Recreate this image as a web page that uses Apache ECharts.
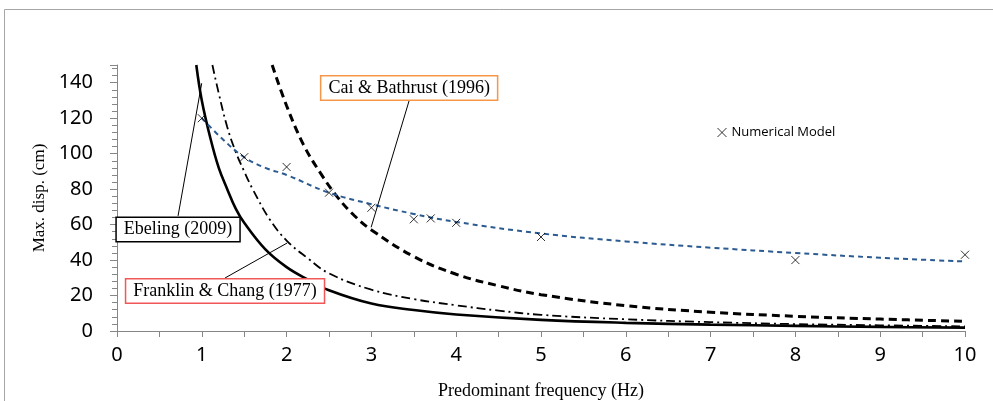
<!DOCTYPE html>
<html>
<head>
<meta charset="utf-8">
<script src="https://cdn.jsdelivr.net/npm/echarts@6/dist/echarts.min.js"></script>
<style>
  html, body { margin: 0; padding: 0; background: #fff; }
  #chart { width: 993px; height: 401px; }
</style>
</head>
<body>
<div id="chart"></div>
<script>
// values: [frequency (Hz), max. disp. (cm)]
var ebeling = [[0.935,150],[1.0,130],[1.1,109],[1.2,92],[1.3,80],[1.4,69],[1.5,61],[1.75,46],[2,36],[2.25,29],[2.5,23],[3,15.5],[3.5,11.8],[4,9.3],[5,6.3],[6,4.6],[7,3.6],[8,2.9],[9,2.3],[10,1.9]];
var franklin = [[1.125,150],[1.2,134],[1.3,115],[1.4,101],[1.5,90],[1.6,80],[1.8,63],[2,51],[2.25,41],[2.5,32.5],[3,23.3],[3.5,18],[4,14.5],[4.5,11.5],[5,9.1],[6,6.6],[7,5],[8,3.9],[9,3.2],[10,2.6]];
var cai = [[1.83,150],[2,127],[2.2,105],[2.4,89],[2.6,75.5],[2.8,65],[3,57],[3.5,42],[4,32],[4.5,25.5],[5,20.5],[6,14.3],[7,10.6],[8,8.3],[9,6.7],[10,5.5]];
var numericalTrend = [[1,120],[1.25,108],[1.5,98],[1.75,92],[2,88],[2.5,78],[3,71.5],[3.5,66],[4,61.5],[5,55],[6,50.5],[7,47],[8,44],[9,41.3],[10,39.2]];
var numerical = [[1,120],[1.5,98],[2,92.5],[2.5,78],[3,69.5],[3.5,63],[3.7,63.5],[4,61],[5,53],[8,40],[10,43]];

var xTicks = [0, 10, 1];     // min, max, step
var yTicks = [0, 150, 20];

// callouts (text, box centre, leader from / to) in data units
var callouts = [
    { text: 'Ebeling (2009)', border: '#000000', box: [0.72, 57.2], from: [0.72, 64.9], to: [0.999, 139.7] },
    { text: 'Franklin & Chang (1977)', border: '#f25757', box: [1.274, 22.6], from: [1.274, 29.9], to: [2.006, 49.6] },
    { text: 'Cai & Bathrust (1996)', border: '#f79646', box: [3.445, 137], from: [3.445, 129.9], to: [2.997, 58.5] }
];

var crossPath = 'path://M0,0L10,10M10,0L0,10';
var serif = '"Liberation Serif", "Times New Roman", serif';
var sans = '"Noto Sans", "Open Sans", sans-serif';

myChart = echarts.init(document.getElementById('chart'));

option = {
    backgroundColor: '#ffffff',
    animation: false,
    graphic: [{
        type: 'rect', silent: true, z: -10,
        shape: { x: 4.5, y: 9.5, width: 1200, height: 600 },
        style: { fill: 'none', stroke: '#a6a6a6', lineWidth: 1 }
    }],
    grid: { left: 117, right: 28, top: 65, bottom: 70, outerBoundsMode: 'none', containLabel: false },
    legend: {
        data: ['Numerical Model'],
        left: 712, top: 121,
        icon: crossPath,
        itemWidth: 9, itemHeight: 9, itemGap: 5,
        itemStyle: { color: 'transparent', borderColor: '#000', borderWidth: 1 },
        textStyle: { fontFamily: '"Open Sans", sans-serif', fontSize: 13, color: '#000' }
    },
    xAxis: {
        type: 'value',
        min: xTicks[0], max: xTicks[1], interval: xTicks[2],
        name: 'Predominant frequency (Hz)',
        nameLocation: 'middle', nameGap: 51,
        nameTextStyle: { fontFamily: serif, fontSize: 18, color: '#000' },
        axisLine: { lineStyle: { color: '#868686', width: 1 } },
        axisTick: { inside: false, length: 6, lineStyle: { color: '#868686' } },
        minorTick: { show: true, splitNumber: 2, length: 6, lineStyle: { color: '#868686' } },
        axisLabel: { margin: 14, fontFamily: sans, fontSize: 20, color: '#000' },
        splitLine: { show: false }
    },
    yAxis: {
        type: 'value',
        min: yTicks[0], max: yTicks[1], interval: yTicks[2],
        name: 'Max. disp. (cm)',
        nameLocation: 'middle', nameGap: 60,
        nameTextStyle: { fontFamily: serif, fontSize: 17, color: '#000' },
        axisLine: { show: true, lineStyle: { color: '#868686', width: 1 } },
        axisTick: { show: true, length: 7, lineStyle: { color: '#868686' } },
        minorTick: { show: true, splitNumber: 5, length: 5, lineStyle: { color: '#868686' } },
        axisLabel: { margin: 24, fontFamily: sans, fontSize: 20, color: '#000', showMaxLabel: false },
        splitLine: { show: false }
    },
    series: [{
        name: 'Ebeling (2009)',
        type: 'line', data: ebeling, showSymbol: false, smooth: 0.4,
        lineStyle: { color: '#000', width: 2.6, type: 'solid' }
    }, {
        name: 'Franklin & Chang (1977)',
        type: 'line', data: franklin, showSymbol: false, smooth: 0.4,
        lineStyle: { color: '#000', width: 1.8, type: [9, 4, 2, 4] }
    }, {
        name: 'Cai & Bathrust (1996)',
        type: 'line', data: cai, showSymbol: false, smooth: 0.4,
        lineStyle: { color: '#000', width: 3, type: [8, 5] }
    }, {
        name: 'Trend',
        type: 'line', data: numericalTrend, showSymbol: false, smooth: 0.4,
        lineStyle: { color: '#2b5b91', width: 2, type: [5, 4] }
    }, {
        name: 'Numerical Model',
        type: 'scatter', data: numerical, z: 5,
        symbol: crossPath, symbolSize: 8,
        itemStyle: { color: 'transparent', borderColor: '#000', borderWidth: 1 },
        markLine: {
            silent: true, symbol: ['none', 'none'],
            label: { show: false },
            lineStyle: { color: '#000', width: 1, type: 'solid' },
            data: callouts.map(function (c) {
                return [{ coord: c.from }, { coord: c.to }];
            })
        },
        markPoint: {
            silent: true, symbol: 'rect', symbolSize: 0,
            data: callouts.map(function (c) {
                return {
                    coord: c.box,
                    label: {
                        show: true, position: 'inside', formatter: c.text,
                        fontFamily: serif, fontSize: 18, color: '#000',
                        backgroundColor: '#fff', borderColor: c.border, borderWidth: 1.5,
                        padding: [3, 7, 2, 7]
                    }
                };
            })
        }
    }]
};

myChart.setOption(option);
</script>
</body>
</html>
